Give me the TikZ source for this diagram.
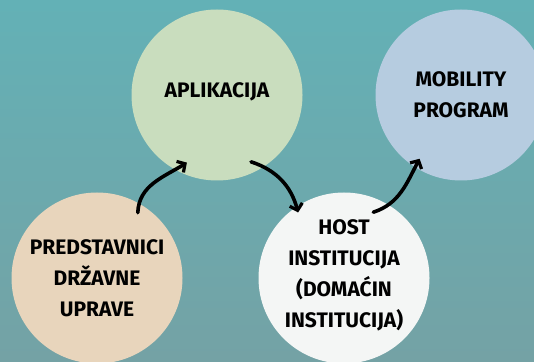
\documentclass[tikz,border=0pt]{standalone}
\usepackage{fontspec}
\setmainfont{Fira Sans}
\usetikzlibrary{arrows.meta,calc}
\definecolor{bgtop}{RGB}{99,177,182}
\definecolor{bgbot}{RGB}{116,162,165}
\definecolor{cgreen}{RGB}{201,221,190}
\definecolor{cblue}{RGB}{182,204,224}
\definecolor{cbeige}{RGB}{232,213,188}
\definecolor{cwhite}{RGB}{244,246,245}
\tikzset{
  bubble/.style={circle,minimum size=171pt,inner sep=0pt,align=center,
    font=\fontsize{21}{31}\selectfont\bfseries,text=black},
  flow/.style={line width=3.6pt,line cap=round,-{Straight Barb[length=6pt,width=13pt,line width=3.2pt]}}
}
\begin{document}
\begin{tikzpicture}[x=1pt,y=1pt]
\useasboundingbox (0,0) rectangle (534,361);
\shade[top color=bgtop,bottom color=bgbot] (0,0) rectangle (534,361);
\begin{scope}
\clip (0,0) rectangle (534,361);
\node[bubble,fill=cgreen,text depth=10pt] (ap) at (217,266) {APLIKACIJA};
\node[bubble,fill=cblue] (mp) at (461,266) {MOBILITY\\PROGRAM};
\node[bubble,fill=cbeige] (pd) at (97,83) {PREDSTAVNICI\\DRŽAVNE\\UPRAVE};
\node[bubble,fill=cwhite,text depth=8pt] (hi) at (344,83) {HOST\\INSTITUCIJA\\(DOMAĆIN\\INSTITUCIJA)};
\end{scope}
\coordinate (a1s) at ($(pd.center)+(58:77)$);
\coordinate (a1e) at ($(ap.center)+(246:74)$);
\coordinate (a2s) at ($(ap.center)+(297:75)$);
\coordinate (a2e) at ($(hi.center)+(125:80)$);
\coordinate (a3s) at ($(hi.center)+(66:72)$);
\coordinate (a3e) at ($(mp.center)+(237:76)$);
\draw[flow] (a1s) to[out=88,in=212] (a1e);
\draw[flow] (a2s) to[out=-18,in=105] (a2e);
\draw[flow] (a3s) to[out=18,in=242] (a3e);
\end{tikzpicture}
\end{document}
